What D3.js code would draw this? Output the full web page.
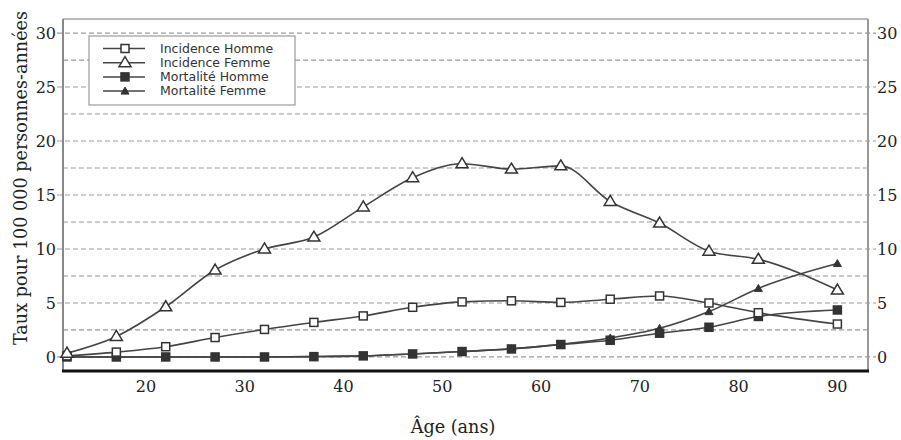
<!DOCTYPE html>
<meta charset="utf-8">
<script src="https://d3js.org/d3.v7.min.js"></script>
<style>
  body {margin: 0; background: #fff;}
  .lab {font-family: "DejaVu Serif", serif; fill: #222;}
  .leg {font-family: "DejaVu Sans", Arial, sans-serif; font-size: 12.5px; fill: #333;}
</style>
<div id="chart"></div>
<script>

// ages (x values)
var ages = [12, 17, 22, 27, 32, 37, 42, 47, 52, 57, 62, 67, 72, 77, 82, 90];

// rates per 100 000 person-years
var incidenceHomme = [0.1, 0.45, 0.95, 1.8, 2.55, 3.2, 3.8, 4.6, 5.1, 5.2, 5.05, 5.35, 5.65, 5.0, 4.1, 3.05];
var incidenceFemme = [0.35, 1.9, 4.65, 8.05, 10.0, 11.1, 13.9, 16.6, 17.9, 17.4, 17.7, 14.4, 12.4, 9.8, 9.05, 6.2];
var mortaliteHomme = [0.0, 0.0, 0.0, 0.0, 0.0, 0.03, 0.1, 0.28, 0.5, 0.74, 1.15, 1.55, 2.2, 2.75, 3.75, 4.35];
var mortaliteFemme = [0.0, 0.0, 0.0, 0.0, 0.0, 0.03, 0.1, 0.28, 0.5, 0.76, 1.17, 1.75, 2.65, 4.2, 6.35, 8.65];

var xTicks = [20, 30, 40, 50, 60, 70, 80, 90];
var yTicks = [0, 5, 10, 15, 20, 25, 30];
var gridVals = [0, 2.5, 5, 7.5, 10, 12.5, 15, 17.5, 20, 22.5, 25, 27.5, 30];

var series = [
  {name: "Incidence Homme", values: incidenceHomme, shape: "square", fill: "#fff"},
  {name: "Incidence Femme", values: incidenceFemme, shape: "triangle", fill: "#fff"},
  {name: "Mortalité Homme", values: mortaliteHomme, shape: "square", fill: "#333"},
  {name: "Mortalité Femme", values: mortaliteFemme, shape: "smalltri", fill: "#333"}
];

var W = 901, H = 440;
var pLeft = 63, pRight = 868, pTop = 19, pBottom = 371;

var svg = d3.select("#chart").append("svg")
  .attr("width", W).attr("height", H);

var x = d3.scaleLinear().domain([11.6, 93.1]).range([pLeft, pRight]);
var y = d3.scaleLinear().domain([-1.3, 31.3]).range([pBottom, pTop]);

// grid lines
svg.selectAll(".grid")
  .data(gridVals)
  .enter().append("line")
    .attr("x1", function(d) { return d % 5 === 0 ? pLeft - 6 : pLeft; })
    .attr("x2", function(d) { return d % 5 === 0 ? pRight + 8 : pRight; })
    .attr("y1", function(d) { return y(d); })
    .attr("y2", function(d) { return y(d); })
    .attr("stroke", "#999")
    .attr("stroke-width", 1.2)
    .attr("stroke-dasharray", "5,3");

// frame
svg.append("line").attr("x1", pLeft).attr("x2", pRight).attr("y1", pTop).attr("y2", pTop)
  .attr("stroke", "#777").attr("stroke-width", 1.2);
svg.append("line").attr("x1", pLeft).attr("x2", pLeft).attr("y1", pTop).attr("y2", pBottom)
  .attr("stroke", "#888").attr("stroke-width", 2);
svg.append("line").attr("x1", pRight).attr("x2", pRight).attr("y1", pTop).attr("y2", pBottom)
  .attr("stroke", "#999").attr("stroke-width", 2);
svg.append("line").attr("x1", pLeft - 1).attr("x2", pRight + 1).attr("y1", pBottom).attr("y2", pBottom)
  .attr("stroke", "#111").attr("stroke-width", 3);

// y labels left and right
svg.selectAll(".yl")
  .data(yTicks)
  .enter().append("text")
    .attr("class", "lab")
    .attr("x", pLeft - 7)
    .attr("y", function(d) { return y(d); })
    .attr("dy", "0.36em")
    .attr("text-anchor", "end")
    .style("font-size", "16px")
    .text(function(d) { return d; });
svg.selectAll(".yr")
  .data(yTicks)
  .enter().append("text")
    .attr("class", "lab")
    .attr("x", pRight + 9)
    .attr("y", function(d) { return y(d); })
    .attr("dy", "0.36em")
    .attr("text-anchor", "start")
    .style("font-size", "16px")
    .text(function(d) { return d; });

// x labels
svg.selectAll(".xl")
  .data(xTicks)
  .enter().append("text")
    .attr("class", "lab")
    .attr("x", function(d) { return x(d); })
    .attr("y", pBottom + 21)
    .attr("text-anchor", "middle")
    .style("font-size", "16px")
    .text(function(d) { return d; });

// titles
svg.append("text")
  .attr("class", "lab")
  .attr("transform", "translate(27,178) rotate(-90)")
  .attr("text-anchor", "middle")
  .style("font-size", "17.6px")
  .text("Taux pour 100 000 personnes-années");
svg.append("text")
  .attr("class", "lab")
  .attr("x", 453)
  .attr("y", 433)
  .attr("text-anchor", "middle")
  .style("font-size", "17.6px")
  .text("Âge (ans)");

// marker drawing
function marker(g, shape, fill, cx, cy) {
  if (shape === "square") {
    g.append("rect")
      .attr("x", cx - 4).attr("y", cy - 4).attr("width", 8).attr("height", 8)
      .attr("fill", fill).attr("stroke", "#333").attr("stroke-width", 1.5);
  } else if (shape === "triangle") {
    g.append("path")
      .attr("d", "M" + cx + "," + (cy - 6) + "L" + (cx + 6) + "," + (cy + 4) + "L" + (cx - 6) + "," + (cy + 4) + "Z")
      .attr("fill", fill).attr("stroke", "#333").attr("stroke-width", 1.5);
  } else {
    g.append("path")
      .attr("d", "M" + cx + "," + (cy - 4) + "L" + (cx + 4) + "," + (cy + 3) + "L" + (cx - 4) + "," + (cy + 3) + "Z")
      .attr("fill", fill).attr("stroke", "#333").attr("stroke-width", 1);
  }
}

var line = d3.line()
  .x(function(d, i) { return x(ages[i]); })
  .y(function(d) { return y(d); })
  .curve(d3.curveMonotoneX);

// draw order: mortality femme first so homme squares sit on top
var order = [3, 2, 0, 1];
order.forEach(function(k) {
  var s = series[k];
  svg.append("path")
    .attr("d", line(s.values))
    .attr("fill", "none")
    .attr("stroke", "#444")
    .attr("stroke-width", 1.6);
});
order.forEach(function(k) {
  var s = series[k];
  var g = svg.append("g");
  s.values.forEach(function(v, i) {
    marker(g, s.shape, s.fill, x(ages[i]), y(v));
  });
});

// legend
var lg = svg.append("g");
lg.append("rect")
  .attr("x", 89).attr("y", 36).attr("width", 206).attr("height", 69)
  .attr("fill", "#fff").attr("stroke", "#888").attr("stroke-width", 1);
series.forEach(function(s, i) {
  var ly = 48.5 + i * 14.2;
  lg.append("line")
    .attr("x1", 103).attr("x2", 145).attr("y1", ly).attr("y2", ly)
    .attr("stroke", "#444").attr("stroke-width", 1.5);
  marker(lg, s.shape, s.fill, 125, ly);
  lg.append("text")
    .attr("class", "leg")
    .attr("x", 160).attr("y", ly)
    .attr("dy", "0.35em")
    .text(s.name);
});

</script>
